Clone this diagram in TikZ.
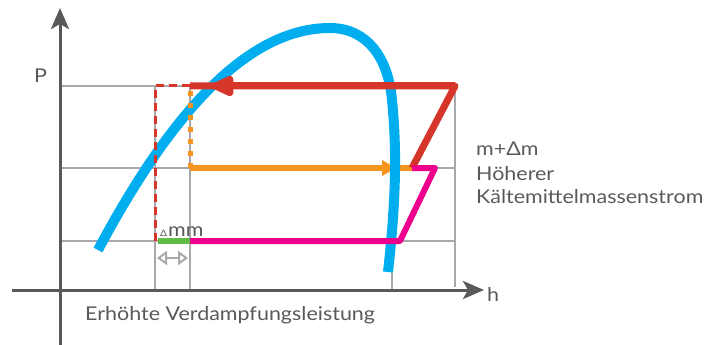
\documentclass[tikz,border=0pt]{standalone}
\usepackage{fontspec}
\setmainfont[FakeStretch=1.13]{Lato}
\usepackage{xcolor}
\definecolor{AxisGray}{RGB}{88,89,91}
\definecolor{GridGray}{RGB}{167,169,172}
\definecolor{CurveBlue}{RGB}{0,174,239}
\definecolor{CycleRed}{RGB}{214,54,41}
\definecolor{CycleOrange}{RGB}{247,148,29}
\definecolor{CycleMagenta}{RGB}{236,0,140}
\definecolor{CycleGreen}{RGB}{98,187,70}
\usetikzlibrary{arrows.meta, positioning, calc}
\tikzset{
  % Axes and helper lines
  axis/.style={line width=3pt, AxisGray,
    -{Stealth[length=21pt,width=18pt,inset=5pt]}},
  grid line/.style={line width=2pt, GridGray},
  % Saturation curve
  dome/.style={line width=10pt, CurveBlue},
  % Cycle lines
  cyc/.style={line width=7pt, line join=round},
  cyc red/.style={cyc, CycleRed},
  cyc orange/.style={cyc, CycleOrange, line width=6pt},
  cyc magenta/.style={cyc, CycleMagenta, line width=6pt},
  cyc green/.style={cyc, CycleGreen, line width=6pt},
  % Labels
  lbl/.style={font=\fontsize{19}{21}\selectfont, text=AxisGray,
    anchor=base west, inner sep=0pt},
}

\begin{document}
\begin{tikzpicture}[x=1pt, y=-1pt]
  \useasboundingbox (0,0) rectangle (707,345);

  % Cycle points
  \coordinate (hpA) at (190,86);
  \coordinate (hpB) at (455,86);
  \coordinate (hpL) at (155,86);
  \coordinate (mpG) at (190,168);
  \coordinate (mpC) at (412,168);
  \coordinate (mpD) at (435,168);
  \coordinate (lpE) at (400,241);
  \coordinate (lpF) at (190,241);
  \coordinate (lpL) at (155,241);

  % Grid
  \foreach \yy in {86,168,241}
    \draw[grid line] (60,\yy) -- (455,\yy);
  \foreach \xx in {155,190}
    \draw[grid line] (\xx,86) -- (\xx,290);
  \draw[grid line] (392,241) -- (392,290);
  \draw[grid line] (455,86) -- (455,287);

  % Axes
  \draw[axis] (60,345) -- (60,8);
  \draw[axis] (12,290) -- (484,290);

  % Orange line under the curve
  \draw[cyc orange] (mpG) -- (mpC);
  \draw[cyc orange, -{Triangle[length=14pt,width=15pt]}] (mpG) -- (396,168);

  % Saturation curve
  \draw[dome] (98,250) .. controls (162,130) and (240,28) .. (330,28)
    .. controls (365,28) and (388,55) .. (392,100)
    .. controls (397,150) and (396,200) .. (388,272);

  % Cycle
  \draw[cyc red] (mpC) -- (hpB) -- (hpA);
  \draw[cyc red, -{Triangle[length=27pt,width=22pt,round]}] (hpB) -- (212,86);
  \draw[cyc magenta] (lpF) -- (lpE) -- (mpD) -- (mpC);
  \draw[cyc green, line cap=butt] (158,241) -- (lpF);
  \draw[CycleRed, line width=3pt, dash pattern=on 8pt off 5pt]
    (hpA) -- (hpL) -- (lpL);
  \draw[CycleOrange, line width=5pt, dash pattern=on 5pt off 7pt]
    (mpG) -- (hpA);

  % Delta arrow
  \draw[line width=2pt, GridGray,
    {Triangle[open,length=10pt,width=14pt]}-{Triangle[open,length=10pt,width=14pt]}]
    (157,258) -- (188,258);

  % Labels
  \node[lbl] (pLbl) at (34,82) {P};
  \node[lbl] (hLbl) at (487,301) {h};
  \node[lbl, font=\fontsize{9}{10}\selectfont] (dLbl) at (160,236) {Δ};
  \node[lbl] (mmLbl) at (168,236) {mm};
  \node[lbl] (massLbl) at (476,155) {m+Δm};
  \node[lbl] (hoeLbl) at (476,180) {Höherer};
  \node[lbl] (kaeLbl) at (476,203) {Kältemittelmassenstrom};
  \node[lbl] (verdLbl) at (85,320) {Erhöhte Verdampfungsleistung};
\end{tikzpicture}
\end{document}
